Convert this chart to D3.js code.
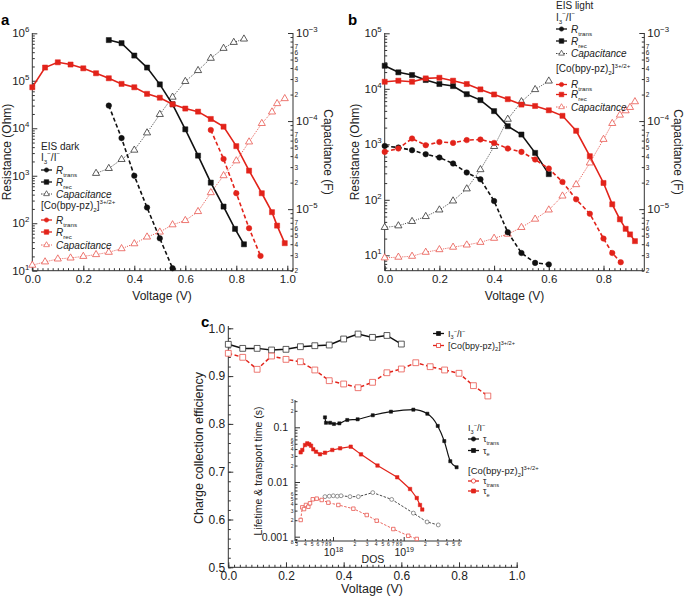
<!DOCTYPE html>
<html>
<head>
<meta charset="utf-8">
<script src="https://cdn.jsdelivr.net/npm/d3@7"></script>
<style>
  body { margin: 0; background: #fff; }
  svg { font-family: "Liberation Sans", Arial, sans-serif; }
</style>
</head>
<body>
<svg id="fig" width="685" height="598"></svg>
<script>
// ---------- data : panel a (EIS dark) ----------
const aRecI_V = [0.3, 0.35, 0.4, 0.45, 0.5, 0.55, 0.6, 0.65, 0.7, 0.75, 0.795, 0.83];
const aRecI = [7.2e5, 6.2e5, 3.4e5, 1.9e5, 8.4e4, 3.2e4, 9.5e3, 2.65e3, 716, 224, 76, 36];
const aTransI_V = [0.3, 0.35, 0.4, 0.45, 0.5, 0.55];
const aTransI = [3.0e4, 6.2e3, 1.0e3, 214, 48, 11.3];
const aCapI_V = [0.25, 0.3, 0.35, 0.4, 0.45, 0.5, 0.55, 0.6, 0.65, 0.7, 0.75, 0.79, 0.83];
const aCapI = [2.55e-5, 2.9e-5, 3.67e-5, 4.68e-5, 7.35e-5, 1.19e-4, 1.87e-4, 2.82e-4, 3.75e-4, 5.17e-4, 6.7e-4, 7.83e-4, 8.55e-4];
const aCo_V = [0, 0.05, 0.1, 0.15, 0.2, 0.25, 0.3, 0.35, 0.4, 0.45, 0.5, 0.55, 0.6, 0.65, 0.7, 0.75, 0.8, 0.85, 0.9, 0.94, 0.96, 0.99];
const aRecCo = [7.3e4, 1.9e5, 2.45e5, 2.2e5, 1.83e5, 1.44e5, 1.13e5, 8.6e4, 7.3e4, 5.3e4, 4.4e4, 3.2e4, 2.6e4, 2.24e4, 1.57e4, 1.08e4, 4.2e3, 1.28e3, 428, 171, 89, 38];
const aCapCo = [2.31e-6, 2.52e-6, 2.72e-6, 2.79e-6, 2.91e-6, 3.05e-6, 3.24e-6, 3.56e-6, 4.05e-6, 4.83e-6, 5.5e-6, 6.65e-6, 7.43e-6, 9.4e-6, 1.54e-5, 2.4e-5, 3.54e-5, 5.8e-5, 9.4e-5, 1.27e-4, 1.58e-4, 1.8e-4];
const aTransCo_V = [0.7, 0.75, 0.8, 0.85, 0.895];
const aTransCo = [9.2e3, 2.26e3, 429, 78.5, 20.5];

// ---------- data : panel b (EIS light) ----------
const bI_V = [0, 0.05, 0.1, 0.15, 0.2, 0.25, 0.3, 0.35, 0.4, 0.45, 0.5, 0.55, 0.6];
const bRecI = [2.6e4, 1.98e4, 1.77e4, 1.44e4, 1.22e4, 1.12e4, 8.0e3, 6.25e3, 3.96e3, 2.12e3, 1.5e3, 700, 290];
const bTransI = [935, 875, 783, 663, 578, 450, 310, 234, 95, 26, 11, 7.3, 6.85];
const bCapI = [6.2e-6, 6.47e-6, 7.25e-6, 8.25e-6, 9.8e-6, 1.24e-5, 1.7e-5, 2.81e-5, 5.15e-5, 1.05e-4, 1.66e-4, 2.28e-4, 2.85e-4];
const bCo_V = [0, 0.05, 0.1, 0.15, 0.2, 0.25, 0.3, 0.35, 0.4, 0.45, 0.5, 0.55, 0.6, 0.65, 0.7, 0.75, 0.8, 0.832, 0.86, 0.881, 0.897, 0.915];
const bRecCo = [1.34e4, 1.4e4, 1.34e4, 1.54e4, 1.58e4, 1.4e4, 1.22e4, 9.76e3, 7.9e3, 6.5e3, 5.2e3, 4.9e3, 4.1e3, 3.26e3, 1.75e3, 610, 201, 83, 44.5, 30, 23.8, 18];
const bCapCo = [2.8e-6, 2.85e-6, 2.92e-6, 3.24e-6, 3.47e-6, 3.7e-6, 3.92e-6, 4.2e-6, 4.67e-6, 5.2e-6, 6.2e-6, 7.7e-6, 9.8e-6, 1.41e-5, 1.9e-5, 3.35e-5, 6.2e-5, 9.4e-5, 1.17e-4, 1.31e-4, 1.43e-4, 1.66e-4];
const bTransCo_V = [0, 0.05, 0.1, 0.15, 0.2, 0.25, 0.3, 0.35, 0.4, 0.45, 0.5, 0.55, 0.6, 0.65, 0.7, 0.75, 0.8, 0.832, 0.863];
const bTransCo = [730, 840, 1270, 964, 1100, 1060, 1190, 1220, 1060, 840, 730, 532, 366, 210, 102, 56, 20, 11, 7.5];

// ---------- data : panel c (charge collection efficiency) ----------
const cI_V = [0, 0.05, 0.1, 0.15, 0.2, 0.25, 0.3, 0.35, 0.4, 0.45, 0.5, 0.55, 0.6];
const cEffI = [0.9665, 0.958, 0.958, 0.9546, 0.956, 0.9615, 0.9636, 0.965, 0.9776, 0.988, 0.981, 0.985, 0.967];
const cCo_V = [0, 0.05, 0.1, 0.15, 0.2, 0.25, 0.3, 0.35, 0.4, 0.45, 0.5, 0.55, 0.6, 0.65, 0.7, 0.75, 0.8, 0.85, 0.9];
const cEffCo = [0.9477, 0.9393, 0.9142, 0.942, 0.935, 0.930, 0.9128, 0.8904, 0.8835, 0.8757, 0.887, 0.907, 0.9149, 0.928, 0.9197, 0.9128, 0.9059, 0.880, 0.8584];

// ---------- data : inset (lifetime & transport time vs DOS) ----------
const dosI_e = [7.7e17, 7.96e17, 9.1e17, 1.03e18, 1.23e18, 1.59e18, 2.23e18, 3.65e18, 6.6e18, 1.37e19, 2.16e19, 3.03e19, 3.75e19, 4.56e19, 5.6e19];
const tauI_e = [0.152, 0.121, 0.121, 0.115, 0.118, 0.136, 0.14, 0.166, 0.193, 0.21, 0.177, 0.106, 0.056, 0.024, 0.0186];
const dosI_tr = [7.7e17, 8.87e17, 1.01e18, 1.15e18, 1.3e18, 1.74e18, 2.28e18, 3.65e18, 6.76e18, 1.37e19, 2.14e19, 3.08e19];
const tauI_tr = [0.0054, 0.0055, 0.0056, 0.0055, 0.0056, 0.0054, 0.0054, 0.0064, 0.0048, 0.0027, 0.00186, 0.00164];
const dosCo_e = [3.49e17, 3.68e17, 4.02e17, 4.33e17, 4.62e17, 4.89e17, 5.26e17, 5.75e17, 6.55e17, 7.7e17, 9.78e17, 1.26e18, 1.78e18, 2.49e18, 4.26e18, 8.1e18, 1.23e19, 1.53e19, 1.7e19, 1.83e19];
const tauCo_e = [0.0349, 0.0385, 0.0474, 0.0509, 0.049, 0.0461, 0.0396, 0.0358, 0.0321, 0.0343, 0.0385, 0.0413, 0.0442, 0.032, 0.020, 0.0122, 0.00745, 0.0051, 0.0038, 0.00314];
const dosCo_tr = [3.49e17, 3.68e17, 3.89e17, 4.15e17, 4.48e17, 4.73e17, 5.17e17, 5.88e17, 6.92e17, 8.59e17, 1.19e18, 1.94e18, 3.0e18, 4.15e18, 7.13e18, 1.16e19, 1.53e19];
const tauCo_tr = [0.00202, 0.00344, 0.0032, 0.0038, 0.00353, 0.00408, 0.00483, 0.00496, 0.00469, 0.00419, 0.0038, 0.00325, 0.00249, 0.00196, 0.00138, 0.00104, 0.00091];

// tick values
const voltMajor = [0, 0.2, 0.4, 0.6, 0.8, 1.0];
const effMajor = [0.5, 0.6, 0.7, 0.8, 0.9, 1.0];

const RED = "#e2231a", RED_LT = "#e8574f", BLK = "#111";
const svg = d3.select("#fig");
svg.append("rect").attr("width", 685).attr("height", 598).attr("fill", "#fff");

// ---------- helpers ----------
function range(a, b, s) { const r = []; for (let v = a; v <= b + 1e-9; v += s) r.push(+v.toFixed(4)); return r; }
function logMinors(d0, d1) {
  const r = [];
  for (let e = d0; e <= d1; e++) for (let k = 2; k <= 9; k++) r.push(k * Math.pow(10, e));
  return r;
}
const digit = d => Math.round(d / Math.pow(10, Math.floor(Math.log10(d) + 1e-9)));
function powLabels(g, fs) {
  g.selectAll(".tick text").each(function (d) {
    const e = Math.round(Math.log10(d));
    const t = d3.select(this).text(null);
    t.append("tspan").text("10");
    t.append("tspan").attr("dy", -fs * 0.45).attr("font-size", fs * 0.68).text(e < 0 ? "\u2212" + (-e) : e);
  });
}
function styleAxis(g, fs) {
  g.attr("font-family", null).attr("font-size", fs);
  g.select(".domain").remove();
  g.selectAll(".tick line").attr("stroke", "#333");
  g.selectAll(".tick text").attr("fill", "#222");
}
function axisX(parent, x, y0, majors, minors, fmt, fs) {
  parent.append("g").attr("transform", `translate(0,${y0})`)
    .call(d3.axisBottom(x).tickValues(minors).tickSize(-2.5).tickFormat(""))
    .call(g => styleAxis(g, fs));
  parent.append("g").attr("transform", `translate(0,${y0})`)
    .call(d3.axisBottom(x).tickValues(majors).tickSize(-5).tickPadding(4).tickFormat(fmt))
    .call(g => styleAxis(g, fs));
}
function axisY(parent, y, x0, side, majors, minors, fmt, fs, pow, minorFmt, minorFs, pad = 3) {
  const mk = side === "left" ? d3.axisLeft : d3.axisRight;
  parent.append("g").attr("transform", `translate(${x0},0)`)
    .call(mk(y).tickValues(minors).tickSize(-2.5).tickPadding(1.5).tickFormat(minorFmt || ""))
    .call(g => styleAxis(g, minorFs || fs));
  const g = parent.append("g").attr("transform", `translate(${x0},0)`)
    .call(mk(y).tickValues(majors).tickSize(-5).tickPadding(pad).tickFormat(fmt))
    .call(g => styleAxis(g, fs));
  if (pow) powLabels(g, fs);
  return g;
}
function frameLine(parent, x1, y1, x2, y2) {
  parent.append("line").attr("x1", x1).attr("y1", y1).attr("x2", x2).attr("y2", y2)
    .attr("stroke", "#333").attr("stroke-width", 1);
}
function series(parent, xs, ys, x, y, o) {
  const pts = xs.map((v, i) => [x(v), y(ys[i])]);
  parent.append("path").attr("d", d3.line().curve(o.curve || d3.curveLinear)(pts))
    .attr("fill", "none").attr("stroke", o.color).attr("stroke-width", o.lw || 1.5)
    .attr("stroke-dasharray", o.dash || null);
  const sym = d3.symbol().type(o.shape).size(o.size || 24);
  parent.append("g").selectAll("path").data(pts).join("path")
    .attr("transform", d => `translate(${d[0]},${d[1]})`)
    .attr("d", sym)
    .attr("fill", o.open ? "#fff" : o.color)
    .attr("stroke", o.mcolor || o.color).attr("stroke-width", o.open ? 0.8 : 0.5);
}
function rich(parent, x, y, parts, fs, fill, anchor) {
  const t = parent.append("text").attr("x", x).attr("y", y).attr("font-size", fs)
    .attr("fill", fill || "#222").attr("text-anchor", anchor || "start");
  let off = 0;
  parts.forEach(([s, k]) => {
    const target = k === "sub" ? fs * 0.3 : k === "sup" ? -fs * 0.42 : 0;
    const ts = t.append("tspan").attr("dy", target - off).text(s);
    if (k === "sub" || k === "sup") ts.attr("font-size", fs * 0.62);
    if (k === "i") ts.attr("font-style", "italic");
    off = target;
  });
  return t;
}
function legendRow(parent, x, yc, o, parts, fs) {
  const g = parent.append("g");
  g.append("line").attr("x1", x).attr("x2", x + 11).attr("y1", yc).attr("y2", yc)
    .attr("stroke", o.color).attr("stroke-width", o.lw || 1.3).attr("stroke-dasharray", o.dash || null);
  g.append("path").attr("transform", `translate(${x + 5.5},${yc})`)
    .attr("d", d3.symbol().type(o.shape).size(o.size || 18))
    .attr("fill", o.open ? "#fff" : o.color).attr("stroke", o.color).attr("stroke-width", 0.7);
  rich(g, x + 15, yc + fs * 0.35, parts, fs, o.tcolor || "#222");
}
const I3parts = [["I", "n"], ["3", "sub"], ["\u2212", "sup"], ["/I", "n"], ["\u2212", "sup"]];
const Coparts = [["[Co(bpy-pz)", "n"], ["2", "sub"], ["]", "n"], ["3+/2+", "sup"]];
const fmt1 = d3.format(".1f");
const capDigit = d => { const k = digit(d); return k <= 7 ? k : ""; };

// ================= panel a =================
{
  const g = svg.append("g");
  const x = d3.scaleLinear().domain([0, 1]).range([32.3, 287.3]);
  const y = d3.scaleLog().domain([10, 1e6]).range([270.7, 33.3]);
  const yr = d3.scaleLog().domain([2e-6, 1e-3]).range([270.7, 33]);
  frameLine(g, 32.3, 33, 32.3, 270.7);
  frameLine(g, 293, 33, 293, 270.7);
  frameLine(g, 32.3, 270.7, 293, 270.7);
  axisX(g, x, 270.7, voltMajor, range(0, 1.02, 0.02), fmt1, 11.5);
  axisY(g, y, 32.3, "left", [1e1, 1e2, 1e3, 1e4, 1e5, 1e6], logMinors(1, 5), null, 11.5, true);
  axisY(g, yr, 293, "right", [1e-5, 1e-4, 1e-3], logMinors(-6, -4), null, 11.5, true, capDigit, 6.5);

  series(g, aCapI_V, aCapI, x, yr, { color: "#333", lw: 0.9, dash: "1,1.3", shape: d3.symbolTriangle, open: true, size: 22 });
  series(g, aCo_V, aCapCo, x, yr, { color: RED_LT, lw: 1, dash: "1,1.2", shape: d3.symbolTriangle, open: true, size: 22 });
  series(g, aRecI_V, aRecI, x, y, { color: BLK, lw: 1.6, shape: d3.symbolSquare, size: 26 });
  series(g, aTransI_V, aTransI, x, y, { color: BLK, lw: 1.6, dash: "4,2.5", shape: d3.symbolCircle, size: 24 });
  series(g, aCo_V, aRecCo, x, y, { color: RED, lw: 1.6, shape: d3.symbolSquare, size: 26 });
  series(g, aTransCo_V, aTransCo, x, y, { color: RED, lw: 1.6, dash: "4,2.5", shape: d3.symbolCircle, size: 24 });

  g.append("text").attr("x", 162).attr("y", 300).attr("text-anchor", "middle").attr("font-size", 12).attr("fill", "#222").text("Voltage (V)");
  g.append("text").attr("transform", "translate(11,152) rotate(-90)").attr("text-anchor", "middle").attr("font-size", 12).attr("fill", "#222").text("Resistance (Ohm)");
  g.append("text").attr("transform", "translate(324,152) rotate(90)").attr("text-anchor", "middle").attr("font-size", 12).attr("fill", "#222").text("Capacitance (F)");
  g.append("text").attr("x", 1).attr("y", 25).attr("font-size", 15).attr("font-weight", "bold").text("a");

  const lx = 41, fs = 10;
  g.append("text").attr("x", lx).attr("y", 149.5).attr("font-size", fs).attr("fill", "#222").text("EIS dark");
  rich(g, lx, 160.5, I3parts, fs);
  legendRow(g, lx, 170, { color: BLK, shape: d3.symbolCircle, size: 14 }, [["R", "i"], ["trans", "sub"]], fs);
  legendRow(g, lx, 182, { color: BLK, shape: d3.symbolSquare, size: 20 }, [["R", "i"], ["rec", "sub"]], fs);
  legendRow(g, lx, 194, { color: "#333", dash: "1.5,1", lw: 0.9, shape: d3.symbolTriangle, open: true, size: 14 }, [["Capacitance", "i"]], fs);
  rich(g, lx, 208.5, Coparts, fs);
  legendRow(g, lx, 220, { color: RED, shape: d3.symbolCircle, size: 14 }, [["R", "i"], ["trans", "sub"]], fs);
  legendRow(g, lx, 232, { color: RED, shape: d3.symbolSquare, size: 20 }, [["R", "i"], ["rec", "sub"]], fs);
  legendRow(g, lx, 245, { color: RED_LT, dash: "1.5,1", lw: 0.9, shape: d3.symbolTriangle, open: true, size: 14 }, [["Capacitance", "i"]], fs);
}

// ================= panel b =================
{
  const g = svg.append("g");
  const x = d3.scaleLinear().domain([0, 1]).range([384.7, 658.2]);
  const y = d3.scaleLog().domain([10, 1e5]).range([255.3, 33.3]);
  const yr = d3.scaleLog().domain([2e-6, 1e-3]).range([270.7, 33]);
  frameLine(g, 384.7, 33, 384.7, 270.7);
  frameLine(g, 644.3, 33, 644.3, 270.7);
  frameLine(g, 384.7, 270.7, 644.3, 270.7);
  axisX(g, x, 270.7, [0, 0.2, 0.4, 0.6, 0.8], range(0, 0.94, 0.02), fmt1, 11.5);
  axisY(g, y, 384.7, "left", [1e1, 1e2, 1e3, 1e4, 1e5], [6, 7, 8, 9].concat(logMinors(1, 4)), null, 11.5, true);
  axisY(g, yr, 644.3, "right", [1e-5, 1e-4, 1e-3], logMinors(-6, -4), null, 11.5, true, capDigit, 6.5);

  series(g, bI_V, bCapI, x, yr, { color: "#333", lw: 0.9, dash: "1,1.3", shape: d3.symbolTriangle, open: true, size: 22 });
  series(g, bCo_V, bCapCo, x, yr, { color: RED_LT, lw: 1, dash: "1,1.2", shape: d3.symbolTriangle, open: true, size: 22 });
  series(g, bI_V, bRecI, x, y, { color: BLK, lw: 1.6, shape: d3.symbolSquare, size: 26 });
  series(g, bI_V, bTransI, x, y, { color: BLK, lw: 1.6, dash: "4,2.5", shape: d3.symbolCircle, size: 24 });
  series(g, bCo_V, bRecCo, x, y, { color: RED, lw: 1.6, shape: d3.symbolSquare, size: 26 });
  series(g, bTransCo_V, bTransCo, x, y, { color: RED, lw: 1.6, dash: "4,2.5", shape: d3.symbolCircle, size: 24 });

  g.append("text").attr("x", 514.5).attr("y", 300).attr("text-anchor", "middle").attr("font-size", 12).attr("fill", "#222").text("Voltage (V)");
  g.append("text").attr("transform", "translate(359,152) rotate(-90)").attr("text-anchor", "middle").attr("font-size", 12).attr("fill", "#222").text("Resistance (Ohm)");
  g.append("text").attr("transform", "translate(674,152) rotate(90)").attr("text-anchor", "middle").attr("font-size", 12).attr("fill", "#222").text("Capacitance (F)");
  g.append("text").attr("x", 348).attr("y", 25).attr("font-size", 15).attr("font-weight", "bold").text("b");

  const lx = 556, fs = 10;
  g.append("text").attr("x", lx).attr("y", 9).attr("font-size", fs).attr("fill", "#222").text("EIS light");
  rich(g, lx, 20.5, I3parts, fs);
  legendRow(g, lx, 29, { color: BLK, shape: d3.symbolCircle, size: 14 }, [["R", "i"], ["trans", "sub"]], fs);
  legendRow(g, lx, 41, { color: BLK, shape: d3.symbolSquare, size: 20 }, [["R", "i"], ["rec", "sub"]], fs);
  legendRow(g, lx, 53.5, { color: "#333", dash: "1.5,1", lw: 0.9, shape: d3.symbolTriangle, open: true, size: 14 }, [["Capacitance", "i"]], fs);
  rich(g, lx, 72, Coparts, fs);
  legendRow(g, lx, 84.5, { color: RED, shape: d3.symbolCircle, size: 14 }, [["R", "i"], ["trans", "sub"]], fs);
  legendRow(g, lx, 94.5, { color: RED, shape: d3.symbolSquare, size: 20 }, [["R", "i"], ["rec", "sub"]], fs);
  legendRow(g, lx, 107, { color: RED_LT, dash: "1.5,1", lw: 0.9, shape: d3.symbolTriangle, open: true, size: 14 }, [["Capacitance", "i"]], fs);
}

// ================= panel c =================
{
  const g = svg.append("g");
  const x = d3.scaleLinear().domain([0, 1]).range([228.3, 516.7]);
  const y = d3.scaleLinear().domain([0.5, 1]).range([567.3, 328.3]);
  frameLine(g, 228.3, 326, 228.3, 567.3);
  frameLine(g, 228.3, 567.3, 518, 567.3);
  axisX(g, x, 567.3, [0, 0.2, 0.4, 0.6, 0.8, 1.0], range(0, 1.0, 0.02), fmt1, 12);
  axisY(g, y, 228.3, "left", effMajor, range(0.5, 1.0, 0.02), fmt1, 12, false);

  series(g, cI_V, cEffI, x, y, { color: BLK, lw: 1.5, shape: d3.symbolSquare, open: true, mcolor: "#333", size: 34 });
  series(g, cCo_V, cEffCo, x, y, { color: RED, lw: 1.5, dash: "4,2.5", shape: d3.symbolSquare, open: true, mcolor: RED_LT, size: 34 });

  g.append("text").attr("x", 372).attr("y", 593).attr("text-anchor", "middle").attr("font-size", 12.5).attr("fill", "#222").text("Voltage (V)");
  g.append("text").attr("transform", "translate(203,448) rotate(-90)").attr("text-anchor", "middle").attr("font-size", 12.5).attr("fill", "#222").text("Charge collection efficiency");
  g.append("text").attr("x", 201).attr("y", 327).attr("font-size", 15).attr("font-weight", "bold").text("c");

  legendRow(g, 433, 333.5, { color: BLK, shape: d3.symbolSquare, size: 16 }, I3parts, 9);
  legendRow(g, 433, 345.5, { color: RED, shape: d3.symbolSquare, open: true, size: 16 }, Coparts, 9);

  // ----- inset -----
  const xi = d3.scaleLog().domain([1e18, 1e19]).range([333, 403.7]);
  const yi = d3.scaleLog().domain([1e-3, 1e-1]).range([536.7, 427.3]);
  frameLine(g, 295, 400, 295, 541);
  frameLine(g, 295, 541, 462, 541);
  const xMin = [3e17, 4e17, 5e17, 6e17, 7e17, 8e17, 9e17].concat(logMinors(18, 18), [2e19, 3e19, 4e19, 5e19, 6e19]);
  g.append("g").attr("transform", "translate(0,541)")
    .call(d3.axisBottom(xi).tickValues(xMin).tickSize(-2).tickPadding(1.5).tickFormat(digit))
    .call(gg => styleAxis(gg, 5));
  const gx = g.append("g").attr("transform", "translate(0,541)")
    .call(d3.axisBottom(xi).tickValues([1e18, 1e19]).tickSize(-4).tickPadding(8).tickFormat(null))
    .call(gg => styleAxis(gg, 10.5));
  powLabels(gx, 10.5);
  const yMin = [8e-4, 9e-4].concat(logMinors(-3, -2), [2e-1, 3e-1]);
  const insetDigit = d => { const k = digit(d); return d < 1e-3 ? (k === 8 ? k : "") : (k <= 6 ? k : ""); };
  axisY(g, yi, 295, "left", [1e-3, 1e-2, 1e-1], yMin, d3.format(""), 10.5, false, insetDigit, 5, 7);

  series(g, dosI_tr, tauI_tr, xi, yi, { color: "#333", lw: 0.9, dash: "2.5,1.5", shape: d3.symbolCircle, open: true, mcolor: "#777", size: 12 });
  series(g, dosCo_tr, tauCo_tr, xi, yi, { color: RED_LT, lw: 0.9, dash: "2.5,1.5", shape: d3.symbolSquare, open: true, mcolor: RED_LT, size: 12 });
  series(g, dosI_e, tauI_e, xi, yi, { color: BLK, lw: 1.2, shape: d3.symbolSquare, size: 10, curve: d3.curveMonotoneX });
  series(g, dosCo_e, tauCo_e, xi, yi, { color: RED, lw: 1.2, shape: d3.symbolSquare, size: 12 });

  g.append("text").attr("x", 373).attr("y", 563).attr("text-anchor", "middle").attr("font-size", 10.5).attr("fill", "#222").text("DOS");
  g.append("text").attr("transform", "translate(262,471) rotate(-90)").attr("text-anchor", "middle").attr("font-size", 10.5).attr("fill", "#222").text("Lifetime & transport time (s)");

  rich(g, 468, 431, I3parts, 9);
  legendRow(g, 468, 439, { color: BLK, shape: d3.symbolCircle, size: 14 }, [["\u03c4", "n"], ["trans", "sub"]], 9);
  legendRow(g, 468, 450.5, { color: BLK, shape: d3.symbolSquare, size: 16 }, [["\u03c4", "n"], ["e", "sub"]], 9);
  rich(g, 468, 474, Coparts, 9.5);
  legendRow(g, 468, 481, { color: RED, shape: d3.symbolCircle, open: true, size: 14 }, [["\u03c4", "n"], ["trans", "sub"]], 9);
  legendRow(g, 468, 491, { color: RED, shape: d3.symbolSquare, size: 16 }, [["\u03c4", "n"], ["e", "sub"]], 9);
}
</script>
</body>
</html>
